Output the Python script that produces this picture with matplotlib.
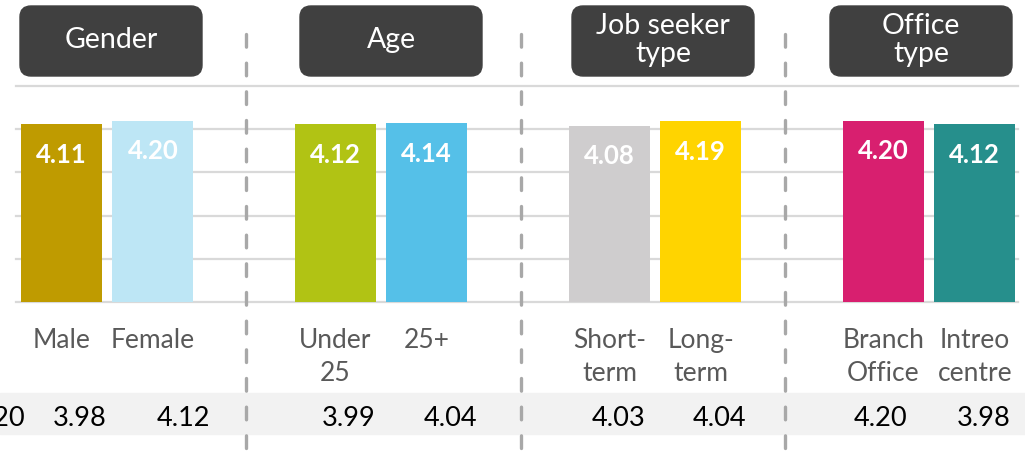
import matplotlib
matplotlib.use('Agg')
import matplotlib.pyplot as plt
from matplotlib.patches import FancyBboxPatch, Rectangle

plt.rcParams['font.family'] = ['Lato', 'DejaVu Sans']

# data
groups = ['Gender', 'Age', 'Job seeker\ntype', 'Office\ntype']
categories = ['Male', 'Female', 'Under\n25', '25+', 'Short-\nterm', 'Long-\nterm',
              'Branch\nOffice', 'Intreo\ncentre']
scores = [4.11, 4.20, 4.12, 4.14, 4.08, 4.19, 4.20, 4.12]
colors = ['#BF9B00', '#BDE6F5', '#B1C314', '#55C0E8', '#CFCDCE', '#FFD400',
          '#D81F6F', '#268F8C']
# comparison row underneath (first column is cut off at the left edge)
prev_scores = [4.20, 3.98, 4.12, 3.99, 4.04, 4.03, 4.04, 4.20, 3.98]

# layout (pixels)
W, H = 1025, 459
header_box_x = [20, 300, 572, 830]
header_box_w = 182
table_right_px = [25, 107, 210, 376, 477, 645, 746, 907, 1011]
divider_px = [246, 521, 785]

fig = plt.figure(figsize=(W / 100, H / 100), dpi=100)

# bars
ax = fig.add_axes([16 / W, (H - 302) / H, 1002 / W, 216 / H])
xpos = [g * 3 + j for g in range(len(groups)) for j in range(2)]
for y in range(6):
    ax.axhline(y, color='#d9d9d9', lw=1.6, zorder=0, clip_on=False)
ax.bar(xpos, scores, width=0.887, color=colors, zorder=2)
for x, v in zip(xpos, scores):
    ax.annotate(f'{v:.2f}', (x, v), xytext=(0, -22), textcoords='offset points',
                ha='center', va='center', color='white', fontsize=18.5,
                fontweight='bold', zorder=3)
ax.set_xlim(-0.498, 10.473)
ax.set_ylim(0, 5)
ax.axis('off')

# overlay in pixel coordinates
ov = fig.add_axes([0, 0, 1, 1])
ov.set_xlim(0, W)
ov.set_ylim(H, 0)
ov.axis('off')

ov.add_patch(Rectangle((0, 393), W, 41, color='#f2f2f2', zorder=0))

for x in divider_px:
    ov.plot([x, x], [33.5, 455], color='#a8a8a8', lw=2.4,
            ls=(0, (3.8, 4.8)), dash_capstyle='round', zorder=1)

for bx, name in zip(header_box_x, groups):
    ov.add_patch(FancyBboxPatch((bx, 6), header_box_w, 70,
                                boxstyle='round,pad=0,rounding_size=11',
                                color='#404040', zorder=2))
    ov.text(bx + header_box_w / 2, 40, name, ha='center', va='center',
            color='white', fontsize=20.5, linespacing=1.1, zorder=3)

for x, lab in zip(xpos, categories):
    cx = 61.5 + x * 91.33
    for i, line in enumerate(lab.split('\n')):
        ov.text(cx, 348 + i * 33, line, ha='center', va='baseline',
                color='#595959', fontsize=19)

for r, v in zip(table_right_px, prev_scores):
    ov.text(r, 426, f'{v:.2f}', ha='right', va='baseline', color='black',
            fontsize=19.5)

plt.savefig('out.png', dpi=100)
